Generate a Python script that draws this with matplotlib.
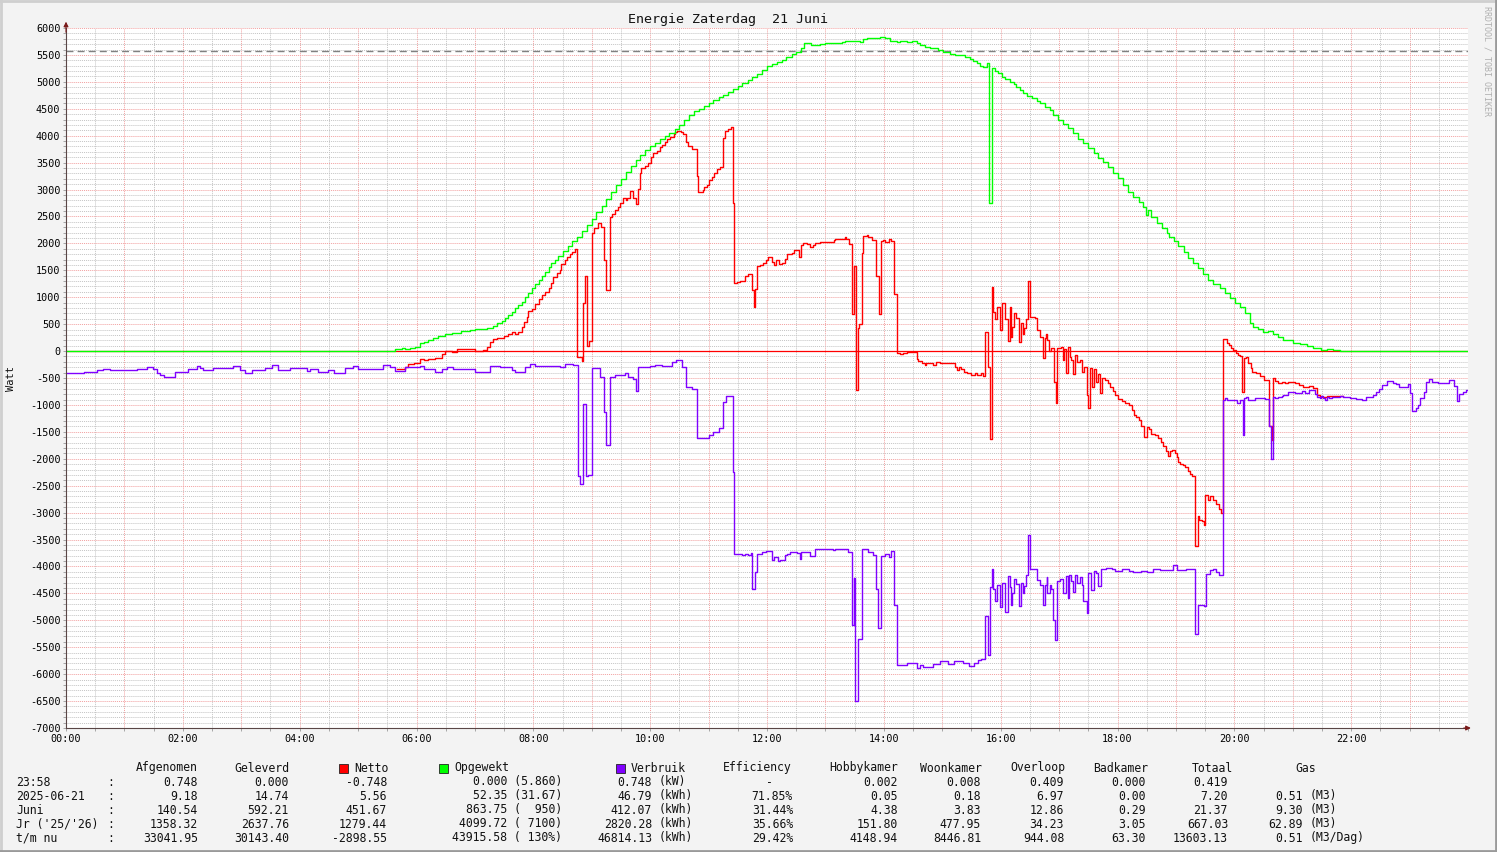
import matplotlib
matplotlib.use("Agg")
import matplotlib.pyplot as plt
from matplotlib.patches import Rectangle
from matplotlib.lines import Line2D

W, H = 1497, 852
MONO = "DejaVu Sans Mono"

# ---- data (hour of day, Watt) ----
t_opgewekt = [0.00, 5.63, 5.75, 5.80, 5.89, 5.97, 6.06, 6.12, 6.20, 6.29, 6.37, 6.49, 6.60, 6.77, 6.92,
              7.00, 7.20, 7.31, 7.37, 7.46, 7.52, 7.57, 7.63, 7.69, 7.74, 7.80, 7.86, 7.91, 7.97, 8.03,
              8.09, 8.14, 8.20, 8.26, 8.31, 8.37, 8.43, 8.51, 8.59, 8.67, 8.75, 8.83, 8.92, 9.00, 9.08,
              9.17, 9.25, 9.33, 9.42, 9.50, 9.58, 9.67, 9.75, 9.83, 9.92, 10.00, 10.08, 10.17, 10.25,
              10.33, 10.42, 10.50, 10.58, 10.67, 10.75, 10.83, 10.92, 11.00, 11.08, 11.17, 11.25, 11.33,
              11.42, 11.50, 11.58, 11.67, 11.75, 11.83, 11.92, 12.00, 12.08, 12.17, 12.25, 12.33, 12.42,
              12.50, 12.58, 12.63, 12.75, 12.90, 13.00, 13.25,
              13.28, 13.34, 13.59, 13.65, 13.71, 13.79, 13.93, 14.02, 14.10, 14.22, 14.28, 14.39, 14.48,
              14.56, 14.62, 14.70, 14.79, 14.93, 15.02, 15.13, 15.22, 15.39, 15.47, 15.53, 15.59, 15.65,
              15.70, 15.76, 15.80, 15.85, 15.90, 15.96, 16.02, 16.07, 16.16, 16.22, 16.27, 16.33, 16.39,
              16.45, 16.53, 16.62, 16.67, 16.76, 16.84, 16.90, 16.99, 17.07, 17.16, 17.24, 17.33, 17.41,
              17.50, 17.59, 17.67, 17.76, 17.84, 17.93, 18.01, 18.10, 18.18, 18.27, 18.36, 18.44, 18.49,
              18.53, 18.58, 18.67, 18.76, 18.84, 18.89, 18.96, 19.04, 19.13, 19.21, 19.30, 19.38, 19.47,
              19.55, 19.64, 19.75, 19.84, 19.92, 20.01, 20.10, 20.18, 20.27, 20.32, 20.41, 20.49, 20.58,
              20.67, 20.75, 20.84, 21.01, 21.12, 21.24, 21.35, 21.49, 21.58, 21.69, 21.81, 24.00]
w_opgewekt = [0, 31, 50, 31, 50, 80, 143, 174, 204, 236, 279, 310, 341, 372, 390,
              409, 434, 465, 514, 564, 607, 669, 731, 793, 855, 917, 997, 1084, 1164, 1245,
              1319, 1394, 1474, 1555, 1629, 1691, 1760, 1850, 1950, 2040, 2124, 2230, 2350, 2460, 2580,
              2700, 2830, 2960, 3080, 3200, 3320, 3430, 3540, 3640, 3740, 3810, 3870, 3930, 3990,
              4050, 4120, 4200, 4300, 4390, 4450, 4500, 4560, 4610, 4660, 4710, 4757, 4810,
              4860, 4920, 4980, 5040, 5090, 5150, 5220, 5295, 5330, 5370, 5410, 5460, 5510,
              5560, 5620, 5722, 5685, 5700, 5722, 5717,
              5747, 5766, 5747, 5791, 5810, 5815, 5840, 5810, 5766, 5747, 5760, 5747, 5766,
              5730, 5685, 5642, 5624, 5593, 5561, 5519, 5500, 5468, 5419, 5388, 5345, 5295,
              5270, 5345, 2744, 5252, 5209, 5159, 5097, 5048, 5004, 4961, 4911, 4849, 4787,
              4738, 4694, 4651, 4602, 4527, 4478, 4385, 4292, 4218, 4137, 4044, 3933, 3858,
              3765, 3672, 3580, 3518, 3425, 3314, 3208, 3084, 2960, 2867, 2774, 2681, 2527,
              2620, 2496, 2385, 2280, 2187, 2113, 2050, 1951, 1846, 1722, 1629, 1536, 1431,
              1319, 1245, 1164, 1071, 978, 898, 811, 712, 514, 452, 403, 359, 378,
              316, 266, 204, 155, 130, 93, 50, 20, 40, 20, 0, 0]

t_netto = [5.66, 5.80, 5.86, 5.95, 6.06, 6.12, 6.20, 6.26, 6.32, 6.43, 6.49, 6.60, 6.69, 6.77, 7.00,
           7.14, 7.20, 7.26, 7.315, 7.37, 7.49, 7.57, 7.63, 7.69, 7.74, 7.80, 7.84, 7.89, 7.91, 7.97,
           8.03, 8.09, 8.14, 8.20, 8.26, 8.31, 8.34, 8.40, 8.46, 8.48, 8.54, 8.58, 8.63, 8.67, 8.71,
           8.75, 8.78, 8.83, 8.85, 8.88, 8.92, 8.96, 9.00, 9.03, 9.06, 9.11, 9.15, 9.21, 9.25, 9.31,
           9.34, 9.40, 9.45, 9.49, 9.54, 9.58, 9.61, 9.65, 9.71, 9.76, 9.80, 9.83, 9.85, 9.91, 9.97,
           10.01, 10.05, 10.11, 10.16, 10.20, 10.25, 10.29, 10.34, 10.40, 10.42, 10.46, 10.52, 10.57,
           10.61, 10.65, 10.71, 10.80, 10.82, 10.90, 10.93, 10.97, 11.01, 11.05, 11.10, 11.15, 11.19,
           11.25, 11.28, 11.34, 11.38, 11.41, 11.43, 11.48, 11.54, 11.62, 11.68, 11.74, 11.77, 11.79,
           11.83, 11.88, 11.94, 11.99, 12.02, 12.08, 12.12, 12.16, 12.21, 12.25, 12.31, 12.35, 12.42,
           12.46, 12.54, 12.58, 12.61, 12.68, 12.74, 12.78, 12.82, 12.91, 13.14, 13.16, 13.34, 13.36,
           13.41, 13.45, 13.49, 13.52, 13.55, 13.58, 13.62, 13.65, 13.71, 13.73, 13.79, 13.87, 13.91,
           13.95, 13.98, 14.02, 14.08, 14.13, 14.18, 14.22, 14.28, 14.33, 14.39, 14.56, 14.59, 14.65,
           14.70, 14.73, 14.85, 14.90, 14.96, 15.13, 15.22, 15.25, 15.28, 15.32, 15.37, 15.42, 15.50,
           15.56, 15.59, 15.67, 15.70, 15.74, 15.79, 15.82, 15.85, 15.87, 15.90, 15.94, 15.99, 16.03,
           16.07, 16.12, 16.16, 16.18, 16.20, 16.23, 16.27, 16.31, 16.35, 16.39, 16.40, 16.44, 16.47,
           16.51, 16.59, 16.62, 16.68, 16.72, 16.76, 16.78, 16.80, 16.83, 16.86, 16.91, 16.95, 16.97,
           17.03, 17.06, 17.08, 17.11, 17.15, 17.18, 17.21, 17.24, 17.27, 17.31, 17.36, 17.39, 17.43,
           17.47, 17.50, 17.53, 17.56, 17.59, 17.63, 17.66, 17.70, 17.74, 17.79, 17.84, 17.88, 17.92,
           17.96, 18.01, 18.07, 18.13, 18.19, 18.24, 18.28, 18.32, 18.36, 18.41, 18.45, 18.50, 18.54,
           18.58, 18.64, 18.70, 18.74, 18.78, 18.83, 18.87, 18.90, 18.94, 18.98, 19.01, 19.04, 19.07,
           19.12, 19.15, 19.20, 19.24, 19.28, 19.33, 19.37, 19.40, 19.44, 19.48, 19.50, 19.55, 19.59,
           19.64, 19.69, 19.73, 19.77, 19.80, 19.87, 19.91, 19.95, 19.98, 20.03, 20.07, 20.10, 20.13,
           20.17, 20.20, 20.24, 20.28, 20.31, 20.37, 20.44, 20.50, 20.60, 20.64, 20.67, 20.70, 20.75,
           20.81, 20.87, 20.92, 21.04, 21.10, 21.18, 21.27, 21.35, 21.41, 21.47, 21.58, 21.63, 21.80,
           21.86]
w_netto = [-334, -290, -248, -230, -143, -170, -143, -155, -136, -62, 6, -10, 31, 40, 6,
           18, 68, 174, 217, 236, 279, 310, 350, 320, 359, 452, 545, 640, 749, 790,
           873, 960, 1040, 1102, 1170, 1269, 1369, 1443, 1505, 1616, 1691, 1752, 1802, 1845, 1889,
           -106, -110, -180, 898, 1394, 93, 192, 2186, 2279, 2290, 2384, 2297, 1691, 1133, 2484,
           2540, 2620, 2680, 2744, 2837, 2810, 2850, 2973, 2850, 2731, 3003, 3300, 3393, 3430, 3490,
           3598, 3685, 3720, 3784, 3820, 3889, 3930, 3982, 4030, 4075, 4094, 4075, 4030,
           3889, 3800, 3747, 3251, 2960, 3000, 3040, 3080, 3177, 3240, 3310, 3390, 3424,
           3952, 4094, 4120, 4156, 2744, 1269, 1290, 1300, 1394, 1440, 1133, 823, 1159,
           1583, 1600, 1644, 1690, 1752, 1650, 1598, 1690, 1620, 1644, 1710, 1798, 1830,
           1874, 1752, 1967, 2007, 1980, 1930, 1967, 2007, 2020, 2055, 2083, 2115, 2083,
           1982, 697, 1583, -714, 427, 503, 1813, 2137, 2160, 2115, 2062, 1390, 697,
           2050, 2062, 2030, 2083, 2050, 1059, -35, -60, -35, -10, -149, -190, -230,
           -266, -230, -250, -200, -217, -229, -303, -353, -291, -341, -384, -415, -446,
           -415, -446, -415, -465, 359, -303, -1641, 1195, 731, 588, 824, 390, 898,
           588, 186, 824, 266, 452, 700, 607, 173, 526, 316, 421, 588, 1307,
           638, 607, 390, 266, -136, 235, 316, 204, 6, 50, -570, -972, 50,
           68, -167, 31, -415, 80, -118, -167, -428, -74, -198, -167, -384, -303,
           -817, -1065, -322, -675, -341, -570, -428, -774, -508, -539, -588, -663, -737,
           -817, -898, -923, -972, -1003, -1096, -1189, -1220, -1282, -1394, -1592, -1418, -1456,
           -1542, -1561, -1623, -1685, -1765, -1852, -1951, -1852, -1840, -1889, -1976, -2057, -2100,
           -2119, -2150, -2224, -2274, -2323, -3624, -3066, -3141, -3153, -3233, -2676, -2757, -2695,
           -2769, -2831, -2924, -3004, 217, 155, 111, 50, 19, -31, -81, -93, -755,
           -136, -105, -229, -322, -384, -415, -465, -539, -1394, -1650, -508, -551, -588,
           -570, -601, -570, -601, -632, -663, -644, -694, -818, -860, -830, -840, -840,
           -840]

t_verbruik = [0.00, 0.30, 0.35, 0.53, 0.64, 0.75, 1.04, 1.21, 1.38, 1.49, 1.55, 1.61, 1.67, 1.78, 1.87,
              2.09, 2.24, 2.29, 2.35, 2.52, 2.86, 2.98, 3.06, 3.18, 3.41, 3.52, 3.63, 3.83, 4.12, 4.18,
              4.32, 4.49, 4.58, 4.78, 4.92, 5.00, 5.43, 5.55, 5.63, 5.80, 6.06, 6.12, 6.32, 6.43, 6.52,
              6.63, 7.00, 7.26, 7.43, 7.63, 7.69, 7.86, 7.94, 8.03, 8.46, 8.54, 8.68, 8.76, 8.80, 8.85,
              8.90, 8.94, 9.00, 9.14, 9.21, 9.25, 9.31, 9.40, 9.57, 9.62, 9.71, 9.76, 9.80, 10.00, 10.08,
              10.20, 10.37, 10.45, 10.54, 10.62, 10.71, 10.80, 11.00, 11.08, 11.17, 11.25, 11.30, 11.41,
              11.44, 11.57, 11.62, 11.68, 11.72, 11.75, 11.79, 11.83, 11.91, 11.99, 12.08, 12.12, 12.18,
              12.22, 12.31, 12.35, 12.40, 12.51, 12.56, 12.59, 12.74, 12.82, 13.13, 13.16, 13.39, 13.45,
              13.49, 13.51, 13.55, 13.62, 13.73, 13.82, 13.87, 13.90, 13.95, 14.02, 14.08, 14.13, 14.18,
              14.22, 14.39, 14.56, 14.62, 14.67, 14.85, 14.96, 15.10, 15.20, 15.35, 15.45, 15.55, 15.62,
              15.67, 15.74, 15.79, 15.82, 15.85, 15.87, 15.90, 15.94, 15.99, 16.03, 16.07, 16.12, 16.16,
              16.18, 16.20, 16.23, 16.27, 16.31, 16.35, 16.39, 16.40, 16.44, 16.47, 16.51, 16.62, 16.67,
              16.72, 16.76, 16.79, 16.80, 16.84, 16.87, 16.90, 16.93, 16.97, 17.01, 17.07, 17.12, 17.15,
              17.17, 17.21, 17.24, 17.27, 17.30, 17.35, 17.39, 17.41, 17.47, 17.50, 17.54, 17.59, 17.63,
              17.67, 17.71, 17.81, 17.90, 17.96, 18.07, 18.20, 18.27, 18.40, 18.50, 18.60, 18.73, 18.95,
              19.02, 19.18, 19.33, 19.37, 19.48, 19.52, 19.58, 19.64, 19.69, 19.74, 19.80, 19.84, 19.87,
              19.95, 19.98, 20.04, 20.10, 20.14, 20.17, 20.20, 20.24, 20.32, 20.35, 20.39, 20.47, 20.52,
              20.60, 20.62, 20.67, 20.69, 20.75, 20.81, 20.84, 20.92, 21.04, 21.15, 21.21, 21.27, 21.38,
              21.42, 21.47, 21.49, 21.52, 21.56, 21.59, 21.62, 21.67, 21.81, 21.86, 21.98, 22.09, 22.18,
              22.26, 22.38, 22.43, 22.48, 22.52, 22.61, 22.72, 22.77, 22.82, 22.92, 22.98, 23.01, 23.04,
              23.11, 23.15, 23.18, 23.24, 23.28, 23.33, 23.38, 23.48, 23.68, 23.76, 23.81, 23.85, 23.91,
              23.97, 24.00]
w_verbruik = [-410, -385, -395, -350, -330, -345, -360, -330, -290, -340, -400, -445, -490, -475, -380,
              -340, -285, -310, -360, -305, -285, -350, -410, -360, -305, -267, -350, -305, -365, -340,
              -395, -345, -415, -315, -285, -335, -267, -300, -370, -303, -285, -330, -397, -330, -300,
              -330, -397, -285, -303, -350, -397, -303, -248, -279, -303, -248, -265, -2322, -2471, -985,
              -2322, -2300, -316, -477, -1133, -1747, -490, -452, -400, -490, -520, -743, -291, -280, -250,
              -270, -198, -167, -291, -663, -700, -1620, -1560, -1500, -1420, -937, -829, -2254,
              -3772, -3790, -3760, -3790, -3750, -4411, -4102, -3772, -3733, -3715, -3880, -3820, -3900,
              -3880, -3790, -3760, -3730, -3745, -3860, -3730, -3800, -3679, -3690, -3670, -3735, -5082,
              -4218, -6490, -5351, -3679, -3730, -3790, -4425, -5136, -3800, -3760, -3820, -3715, -4719,
              -5830, -5790, -5890, -5830, -5860, -5820, -5760, -5810, -5760, -5790, -5850, -5800, -5740,
              -5710, -4924, -5648, -4379, -4056, -4410, -4646, -4349, -4757, -4305, -4838, -4180, -4380,
              -4720, -4490, -4225, -4320, -4725, -4305, -4490, -4360, -4160, -3419, -4056, -4250, -4349,
              -4707, -4349, -4190, -4490, -4349, -4410, -4998, -5370, -4270, -4225, -4490, -4180, -4580,
              -4150, -4270, -4480, -4150, -4300, -4200, -4350, -4638, -4855, -4118, -4440, -4090, -4118,
              -4370, -4040, -4030, -4050, -4080, -4050, -4080, -4110, -4080, -4110, -4050, -4060, -3976,
              -4060, -4040, -5245, -4707, -4740, -4140, -4060, -4040, -4110, -4162, -910, -870, -900,
              -910, -900, -960, -910, -1561, -880, -860, -910, -900, -870, -880, -870, -890,
              -1394, -2001, -860, -870, -850, -830, -820, -768, -775, -750, -775, -730, -790,
              -850, -880, -840, -865, -900, -850, -870, -850, -830, -850, -880, -890, -900,
              -850, -810, -760, -712, -632, -552, -590, -620, -675, -663, -620, -775, -1109,
              -1050, -1010, -880, -755, -570, -527, -570, -590, -540, -650, -930, -800, -755,
              -725, -725]

max_line = 5570  # dashed reference line

hours = list(range(0, 25))
y_ticks = list(range(-7000, 6001, 500))

# ---- legend table ----
row_labels = ["23:58", "2025-06-21", "Juni", "Jr ('25/'26)", "t/m nu"]
afgenomen = ["0.748", "9.18", "140.54", "1358.32", "33041.95"]
geleverd = ["0.000", "14.74", "592.21", "2637.76", "30143.40"]
netto = ["-0.748", "5.56", "451.67", "1279.44", "-2898.55"]
opgewekt = ["0.000 (5.860)", "52.35 (31.67)", "863.75 (  950)", "4099.72 ( 7100)", "43915.58 ( 130%)"]
verbruik = ["0.748", "46.79", "412.07", "2820.28", "46814.13"]
verbruik_unit = ["(kW)", "(kWh)", "(kWh)", "(kWh)", "(kWh)"]
efficiency = ["-   ", "71.85%", "31.44%", "35.66%", "29.42%"]
hobbykamer = ["0.002", "0.05", "4.38", "151.80", "4148.94"]
woonkamer = ["0.008", "0.18", "3.83", "477.95", "8446.81"]
overloop = ["0.409", "6.97", "12.86", "34.23", "944.08"]
badkamer = ["0.000", "0.00", "0.29", "3.05", "63.30"]
totaal = ["0.419", "7.20", "21.37", "667.03", "13603.13"]
gas = ["", "0.51", "9.30", "62.89", "0.51"]
gas_unit = ["", "(M3)", "(M3)", "(M3)", "(M3/Dag)"]

RED, GREEN, PURPLE = "#ff0000", "#00ff00", "#8000ff"


def fx(px):
    return px / W


def fy(py):
    return 1 - py / H


fig = plt.figure(figsize=(W / 100, H / 100), dpi=100, facecolor="#f3f3f3")
ax = fig.add_axes([fx(66), fy(728), fx(1468) - fx(66), fy(28) - fy(728)])
ax.set_facecolor("white")
ax.set_xlim(0, 24)
ax.set_ylim(-7000, 6000)

# grid
ax.set_xticks(hours)
ax.set_xticks([h + 0.5 for h in hours[:-1]], minor=True)
ax.set_xticklabels(["%02d:00" % h if h % 2 == 0 and h < 24 else "" for h in hours])
ax.set_yticks(y_ticks)
ax.set_yticks(range(-7000, 6001, 100), minor=True)
ax.set_yticklabels([str(v) for v in y_ticks])
ax.grid(True, which="minor", color="#c4c4c4", ls=(0, (1, 1)), lw=0.7)
ax.grid(True, which="major", color="#f2a0a0", ls=(0, (1, 1)), lw=0.7)
ax.set_axisbelow(True)
ax.tick_params(which="both", length=2, width=0.6, color="#999999", labelsize=7.3, pad=2)
ax.tick_params(axis="x", which="major", pad=2)
for lab in ax.get_xticklabels() + ax.get_yticklabels():
    lab.set_fontfamily(MONO)

for s in ("top", "right"):
    ax.spines[s].set_visible(False)
for s in ("left", "bottom"):
    ax.spines[s].set_color("#5a4646")
    ax.spines[s].set_linewidth(0.8)

ax.axhline(max_line, color="#808080", lw=1.0, ls=(0, (5, 3)))
ax.axhline(0, color=RED, lw=0.9)

ax.step(t_netto, w_netto, where="post", color=RED, lw=1.0)
ax.step(t_opgewekt, w_opgewekt, where="post", color=GREEN, lw=1.0)
ax.step(t_verbruik, w_verbruik, where="post", color=PURPLE, lw=1.0)

# axis arrows
ax.annotate("", xy=(0, 1.013), xytext=(0, 0.99), xycoords="axes fraction",
            arrowprops=dict(arrowstyle="-|>", color="#7a1a1a", lw=0.8, mutation_scale=7))
ax.annotate("", xy=(1.004, 0), xytext=(0.995, 0), xycoords="axes fraction",
            arrowprops=dict(arrowstyle="-|>", color="#7a1a1a", lw=0.8, mutation_scale=7))

# texts
fig.text(fx(728), fy(19), "Energie Zaterdag  21 Juni", ha="center", va="center",
         family=MONO, fontsize=9.6, color="#111111")
fig.text(fx(11), fy(378), "Watt", ha="center", va="center", rotation=90,
         family=MONO, fontsize=7.5, color="#111111")
fig.text(fx(1487), fy(6), "RRDTOOL / TOBI OETIKER", ha="center", va="top", rotation=270,
         family=MONO, fontsize=6.0, color="#b0b0b0")

# legend table
FS = 8.3
hdr_y = 768
row_y = [782, 796, 810, 824, 838]


def col(px, py, s, ha="right"):
    fig.text(fx(px), fy(py), s, ha=ha, va="center", family=MONO, fontsize=FS, color="#111111")


col(198, hdr_y, "Afgenomen")
col(289, hdr_y, "Geleverd")
col(354, hdr_y, "Netto", "left")
col(454, hdr_y, "Opgewekt", "left")
col(631, hdr_y, "Verbruik", "left")
col(792, hdr_y, "Efficiency")
col(898, hdr_y, "Hobbykamer")
col(982, hdr_y, "Woonkamer")
col(1065, hdr_y, "Overloop")
col(1148, hdr_y, "Badkamer")
col(1233, hdr_y, "Totaal")
col(1295, hdr_y, "Gas", "left")
for bx, c in ((339, RED), (439, GREEN), (616, PURPLE)):
    fig.add_artist(Rectangle((fx(bx), fy(773)), fx(9), 9 / H, transform=fig.transFigure,
                             facecolor=c, edgecolor="#222222", lw=0.6))

for i, ry in enumerate(row_y):
    col(16, ry, row_labels[i], "left")
    col(107, ry, ":", "left")
    col(198, ry, afgenomen[i])
    col(289, ry, geleverd[i])
    col(387, ry, netto[i])
    col(562, ry, opgewekt[i])
    col(652, ry, verbruik[i])
    col(659, ry, verbruik_unit[i], "left")
    col(793, ry, efficiency[i])
    col(898, ry, hobbykamer[i])
    col(981, ry, woonkamer[i])
    col(1064, ry, overloop[i])
    col(1146, ry, badkamer[i])
    col(1228, ry, totaal[i])
    col(1303, ry, gas[i])
    col(1310, ry, gas_unit[i], "left")

# frame around the image
fig.add_artist(Line2D([0, 1], [0.999, 0.999], transform=fig.transFigure, color="#cfcfcf", lw=2))
fig.add_artist(Line2D([0.0007, 0.0007], [0, 1], transform=fig.transFigure, color="#cfcfcf", lw=2))
fig.add_artist(Line2D([0, 1], [0.001, 0.001], transform=fig.transFigure, color="#9a9a9a", lw=2))
fig.add_artist(Line2D([0.9993, 0.9993], [0, 1], transform=fig.transFigure, color="#9a9a9a", lw=2))

fig.savefig("out.png", dpi=100, facecolor=fig.get_facecolor())
